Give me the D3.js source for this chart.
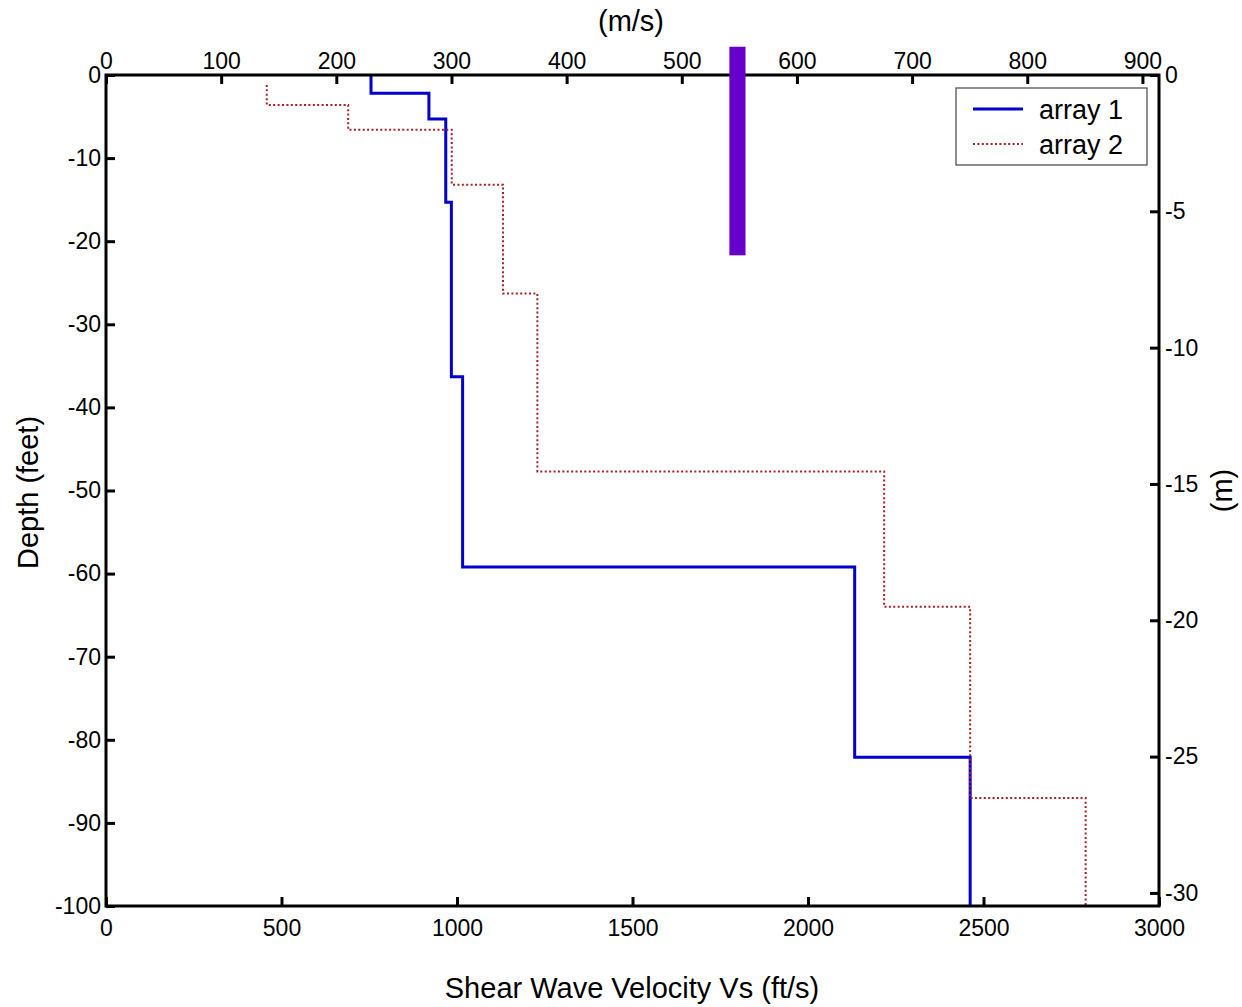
<!DOCTYPE html>
<html>
<head>
<meta charset="utf-8">
<script src="https://cdn.jsdelivr.net/npm/d3@7/dist/d3.min.js"></script>
<style>
  html, body { margin: 0; padding: 0; background: #fff; }
  svg { display: block; font-family: Arial, "Liberation Sans", sans-serif; }
</style>
</head>
<body>
<svg id="chart" width="1242" height="1007"></svg>
<script>
// Shear wave velocity profiles: layer boundaries (ft, negative = below ground) and Vs per layer (ft/s)
const depthBounds1 = [0, -2.2, -5.3, -15.3, -36.3, -59.2, -82.1, -100];
const vsLayers1    = [755, 920, 968, 984, 1016, 2133, 2462];

const depthBounds2 = [-1.2, -3.6, -6.6, -13.2, -26.3, -47.7, -64.0, -87.0, -100];
const vsLayers2    = [458, 690, 985, 1131, 1229, 2217, 2462, 2791];

const seriesNames = ["array 1", "array 2"];

// Highlight band: velocity range (ft/s) and depth range (ft)
const bandVs    = [1776, 1822];
const bandDepth = [3.4, -21.7];

// Tick values
const ftsTicks = [0, 500, 1000, 1500, 2000, 2500, 3000];
const msTicks  = [0, 100, 200, 300, 400, 500, 600, 700, 800, 900];
const ftTicks  = [0, -10, -20, -30, -40, -50, -60, -70, -80, -90, -100];
const mTicks   = [0, -5, -10, -15, -20, -25, -30];

const FT = 0.3048;

const svg = d3.select("#chart");
const L = 106, R = 1159, T = 75, B = 906;

const x  = d3.scaleLinear().domain([0, 3000]).range([L, R]);
const xm = d3.scaleLinear().domain([0, 3000 * FT]).range([L, R]);
const y  = d3.scaleLinear().domain([-100, 0]).range([B, T]);
const ym = d3.scaleLinear().domain([-100 * FT, 0]).range([B, T]);

// Plain hyphen-minus tick labels
const fmt = d => String(d);

// Build a step profile: vertical segment per layer, horizontal jump at each boundary
function stepPoints(bounds, vs) {
  const pts = [];
  vs.forEach((v, i) => {
    pts.push([v, bounds[i]]);
    pts.push([v, bounds[i + 1]]);
  });
  return pts;
}

const line = d3.line().x(d => x(d[0])).y(d => y(d[1]));

const redStroke = "#a82020";
const redDash = "2,2.4";

const plot = svg.append("g");

plot.append("path")
  .datum(stepPoints(depthBounds1, vsLayers1))
  .attr("d", line)
  .attr("fill", "none")
  .attr("stroke", "#0000d0")
  .attr("stroke-width", 3);

plot.append("path")
  .datum(stepPoints(depthBounds2, vsLayers2))
  .attr("d", line)
  .attr("fill", "none")
  .attr("stroke", redStroke)
  .attr("stroke-width", 2)
  .attr("stroke-dasharray", redDash);

const tickFont = "23px";
const fam = "Arial, 'Liberation Sans', sans-serif";

// Bottom axis (ft/s)
const gB = svg.append("g").attr("transform", `translate(0,${B})`)
  .call(d3.axisBottom(x).tickValues(ftsTicks).tickSize(0).tickPadding(0).tickFormat(fmt));
gB.select(".domain").remove();
gB.selectAll(".tick text").attr("font-size", tickFont).attr("font-family", fam)
  .attr("fill", "#000").attr("dy", null).attr("y", 30);
gB.selectAll(".tick").append("line").attr("y1", 0).attr("y2", -9).attr("stroke", "#000").attr("stroke-width", 3);

// Top axis (m/s)
const gT = svg.append("g").attr("transform", `translate(0,${T})`)
  .call(d3.axisTop(xm).tickValues(msTicks).tickSize(0).tickPadding(0).tickFormat(fmt));
gT.select(".domain").remove();
gT.selectAll(".tick text").attr("font-size", tickFont).attr("font-family", fam)
  .attr("fill", "#000").attr("y", -6);
gT.selectAll(".tick").append("line").attr("y1", 0).attr("y2", 9).attr("stroke", "#000").attr("stroke-width", 3);

// Left axis (feet)
const gL = svg.append("g").attr("transform", `translate(${L},0)`)
  .call(d3.axisLeft(y).tickValues(ftTicks).tickSize(0).tickPadding(0).tickFormat(fmt));
gL.select(".domain").remove();
gL.selectAll(".tick text").attr("font-size", tickFont).attr("font-family", fam)
  .attr("fill", "#000").attr("x", -5);
gL.selectAll(".tick").append("line").attr("x1", 0).attr("x2", 9).attr("stroke", "#000").attr("stroke-width", 3);

// Right axis (m)
const gR = svg.append("g").attr("transform", `translate(${R},0)`)
  .call(d3.axisRight(ym).tickValues(mTicks).tickSize(0).tickPadding(0).tickFormat(fmt));
gR.select(".domain").remove();
gR.selectAll(".tick text").attr("font-size", tickFont).attr("font-family", fam)
  .attr("fill", "#000").attr("x", 6);
gR.selectAll(".tick").append("line").attr("x1", 0).attr("x2", -9).attr("stroke", "#000").attr("stroke-width", 3);

// Frame
svg.append("rect")
  .attr("x", L).attr("y", T).attr("width", R - L).attr("height", B - T)
  .attr("fill", "none").attr("stroke", "#000").attr("stroke-width", 3);

// Highlight band drawn over the top spine
svg.append("rect")
  .attr("x", x(bandVs[0])).attr("width", x(bandVs[1]) - x(bandVs[0]))
  .attr("y", y(bandDepth[0])).attr("height", y(bandDepth[1]) - y(bandDepth[0]))
  .attr("fill", "#6600cc");

// Axis titles
const titleFont = "29px";
svg.append("text").attr("x", 632).attr("y", 998)
  .attr("text-anchor", "middle").attr("font-size", titleFont).text("Shear Wave Velocity Vs (ft/s)");
svg.append("text").attr("x", 631).attr("y", 31)
  .attr("text-anchor", "middle").attr("font-size", titleFont).text("(m/s)");
svg.append("text").attr("transform", `translate(38,${(T + B) / 2 + 2}) rotate(-90)`)
  .attr("text-anchor", "middle").attr("font-size", titleFont).text("Depth (feet)");
svg.append("text").attr("transform", `translate(1232,${(T + B) / 2}) rotate(-90)`)
  .attr("text-anchor", "middle").attr("font-size", titleFont).text("(m)");

// Legend
const lg = svg.append("g").attr("transform", "translate(956,88)");
lg.append("rect").attr("width", 191).attr("height", 77)
  .attr("fill", "#fff").attr("stroke", "#444").attr("stroke-width", 1.2);
const legendStyles = [
  { stroke: "#0000d0", width: 3, dash: null },
  { stroke: redStroke, width: 2, dash: redDash }
];
seriesNames.forEach((name, i) => {
  const yy = 21 + i * 35;
  lg.append("line").attr("x1", 17).attr("x2", 67).attr("y1", yy).attr("y2", yy)
    .attr("stroke", legendStyles[i].stroke).attr("stroke-width", legendStyles[i].width)
    .attr("stroke-dasharray", legendStyles[i].dash);
  lg.append("text").attr("x", 83).attr("y", yy + 10).attr("font-size", "27px").text(name);
});
</script>
</body>
</html>
